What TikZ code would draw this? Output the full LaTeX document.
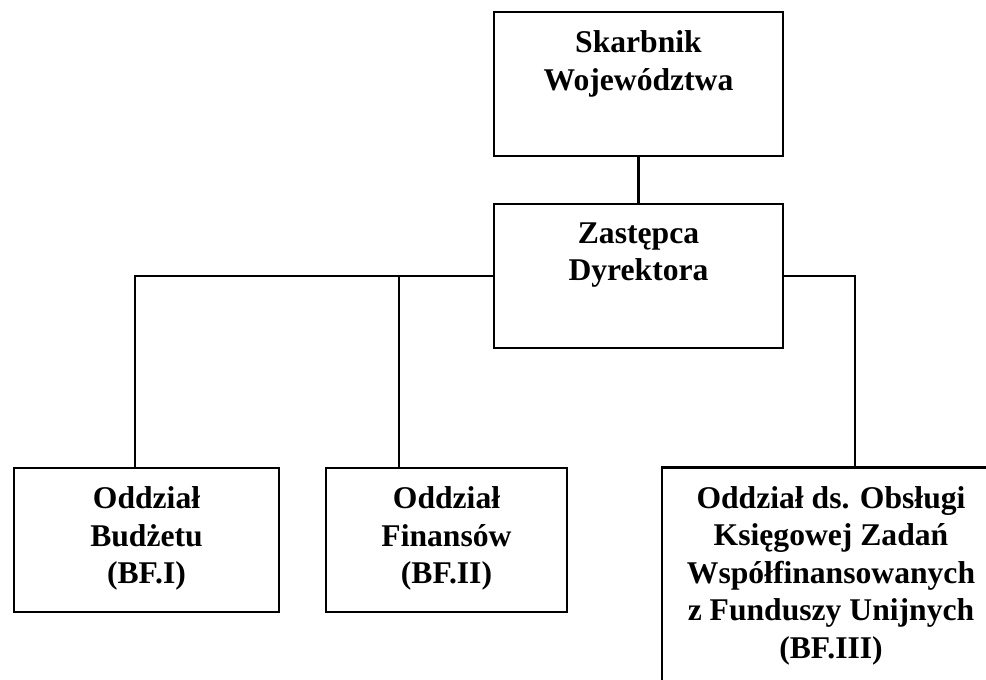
\documentclass[tikz,border=0pt]{standalone}
\usepackage{fontspec}
\setmainfont{Liberation Serif}[BoldFont={Liberation Serif Bold}]
\usepackage{tikz}
\usetikzlibrary{positioning}
\newcommand*{\unitX}[5]{%
  \node [ unit, minimum width = #3, minimum height = #4 ] (#1) at (#2) {};
  \node [ unit text, below = 0.39cm of #1.north ] (#1-text) {%
    #5
  };
}

\begin{document}
\begin{tikzpicture}[ x=0.02cm, y=-0.02cm,
    unit/.style = {draw, line width=1.4pt, inner sep=0pt},
    unit text/.style = {inner sep=0pt, align=center,
                        font=\bfseries\fontsize{18}{21.4}\selectfont},
    link/.style = {line width=1.4pt}]

\useasboundingbox (0,0) rectangle (986,679);
\clip (0,0) rectangle (986,679);

\unitX{skarbnik}{638.5,84}{5.78cm}{2.88cm}{Skarbnik\\Województwa}
\unitX{zastepca}{638.5,276}{5.78cm}{2.88cm}{Zastępca\\Dyrektora}
\unitX{budzet}{146.5,540}{5.30cm}{2.88cm}{Oddział\\Budżetu\\(BF.I)}
\unitX{finanse}{446.5,540}{4.82cm}{2.88cm}{Oddział\\Finansów\\(BF.II)}
\unitX{unijne}{831,600}{6.76cm}{5.30cm}{Oddział ds. Obsługi\\Księgowej Zadań\\Współfinansowanych\\z Funduszy Unijnych\\(BF.III)}
%
\draw [link] (skarbnik.south) -- (zastepca.north);
\draw [link] (zastepca.west) -| ([xshift=-0.23cm]budzet.north);
\draw [link] ([xshift=-0.95cm]finanse.north) |- (zastepca.west);
\draw [link] (zastepca.east) -| ([xshift=0.48cm]unijne.north);
\end{tikzpicture}
\end{document}
